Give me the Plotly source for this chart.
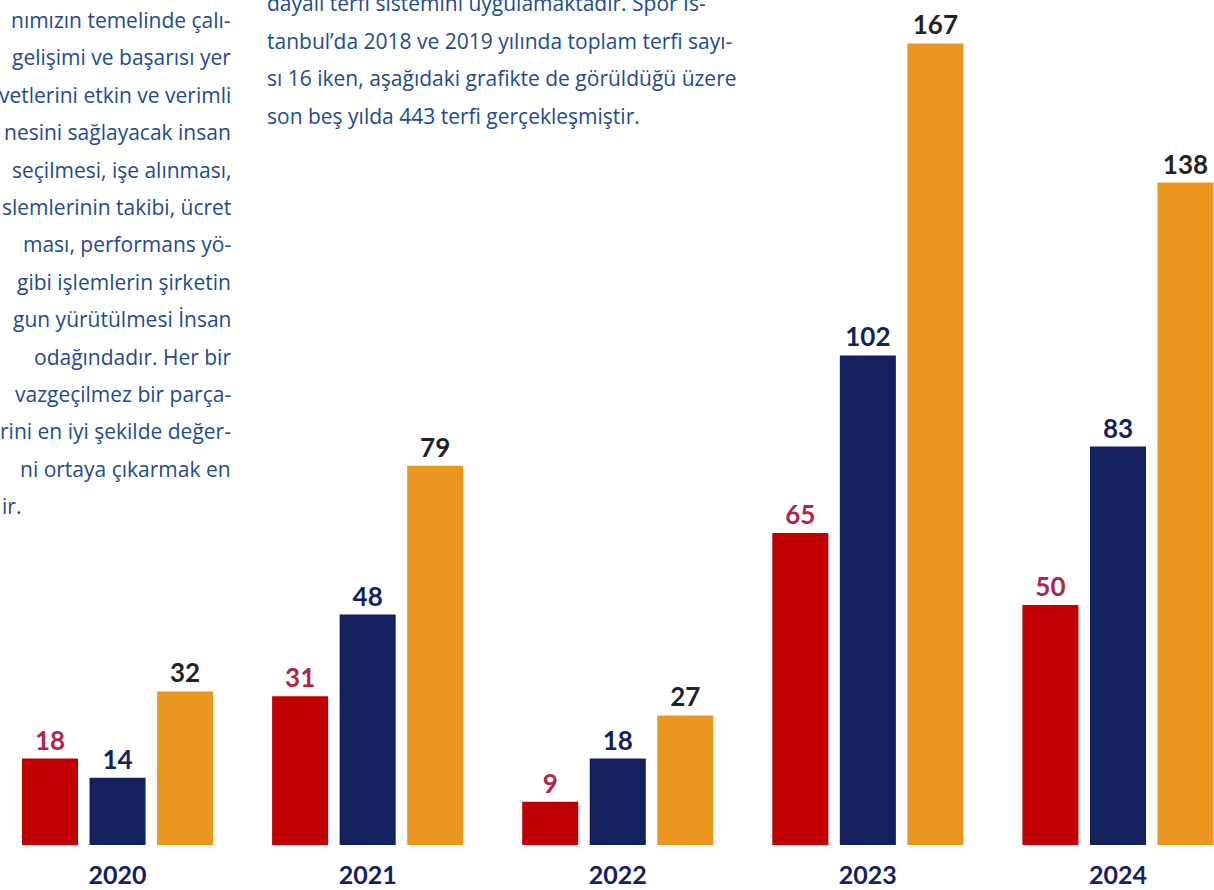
import plotly.graph_objects as go

years = ["2020", "2021", "2022", "2023", "2024"]
series_a = [18, 31, 9, 65, 50]
series_b = [14, 48, 18, 102, 83]
series_c = [32, 79, 27, 167, 138]

left_lines = [
    "nımızın temelinde çalı-",
    "gelişimi ve başarısı yer",
    "vetlerini etkin ve verimli",
    "nesini sağlayacak insan",
    "seçilmesi, işe alınması,",
    "slemlerinin takibi, ücret",
    "ması, performans yö-",
    "gibi işlemlerin şirketin",
    "gun yürütülmesi İnsan",
    "odağındadır. Her bir",
    "vazgeçilmez bir parça-",
    "rini en iyi şekilde değer-",
    "ni ortaya çıkarmak en",
    "ir.",
]
right_lines = [
    "dayalı terfi sistemini uygulamaktadır. Spor İs-",
    "tanbul’da 2018 ve 2019 yılında toplam terfi sayı-",
    "sı 16 iken, aşağıdaki grafikte de görüldüğü üzere",
    "son beş yılda 443 terfi gerçekleşmiştir.",
]

W, H = 1214, 890
MB = 45
PH = H - MB

bar_colors = ["#c00000", "#14215f", "#eb961e"]
label_colors = ["#b0254a", "#14215f", "#222222"]
FONT = "Lato"
TFONT = "Open Sans"

fig = go.Figure()
for vals, bc, lc in zip([series_a, series_b, series_c], bar_colors, label_colors):
    fig.add_trace(go.Bar(
        x=years, y=vals, marker=dict(color=bc, line=dict(width=0)),
        text=[str(v) for v in vals], textposition="outside",
        textfont=dict(family=FONT, size=26, color=lc, weight="bold"),
        cliponaxis=False, showlegend=False, hoverinfo="skip",
    ))

TXT = "#234b8c"
ann = []
for i, line in enumerate(left_lines):
    py = 20 + 37.4 * i
    last = i == len(left_lines) - 1
    ann.append(dict(
        text=line, xref="paper", yref="paper",
        x=(0 if last else 233) / W, y=1 - py / PH,
        xanchor="left" if last else "right", yanchor="middle",
        showarrow=False, font=dict(family=TFONT, size=21, color=TXT),
    ))
for i, line in enumerate(right_lines):
    py = 3 + 37.6 * i
    ann.append(dict(
        text=line, xref="paper", yref="paper",
        x=265 / W, y=1 - py / PH, xanchor="left", yanchor="middle",
        showarrow=False, font=dict(family=TFONT, size=21, color=TXT),
    ))

fig.update_layout(
    width=W, height=H,
    margin=dict(l=0, r=0, t=0, b=MB),
    paper_bgcolor="white", plot_bgcolor="white",
    barmode="group", bargap=0.19, bargroupgap=0.17,
    xaxis=dict(
        type="category", range=[-0.47, 4.384], showgrid=False, showline=False,
        zeroline=False, ticks="", ticklabelstandoff=13,
        tickfont=dict(family=FONT, size=25, color="#14215f", weight="bold"),
    ),
    yaxis=dict(range=[0, PH / 4.8], visible=False, showgrid=False),
    annotations=ann,
)

fig.write_html(
    "out.html",
    config={"displayModeBar": False},
    post_script="document.body.style.margin='0';document.body.style.overflow='hidden';",
)
